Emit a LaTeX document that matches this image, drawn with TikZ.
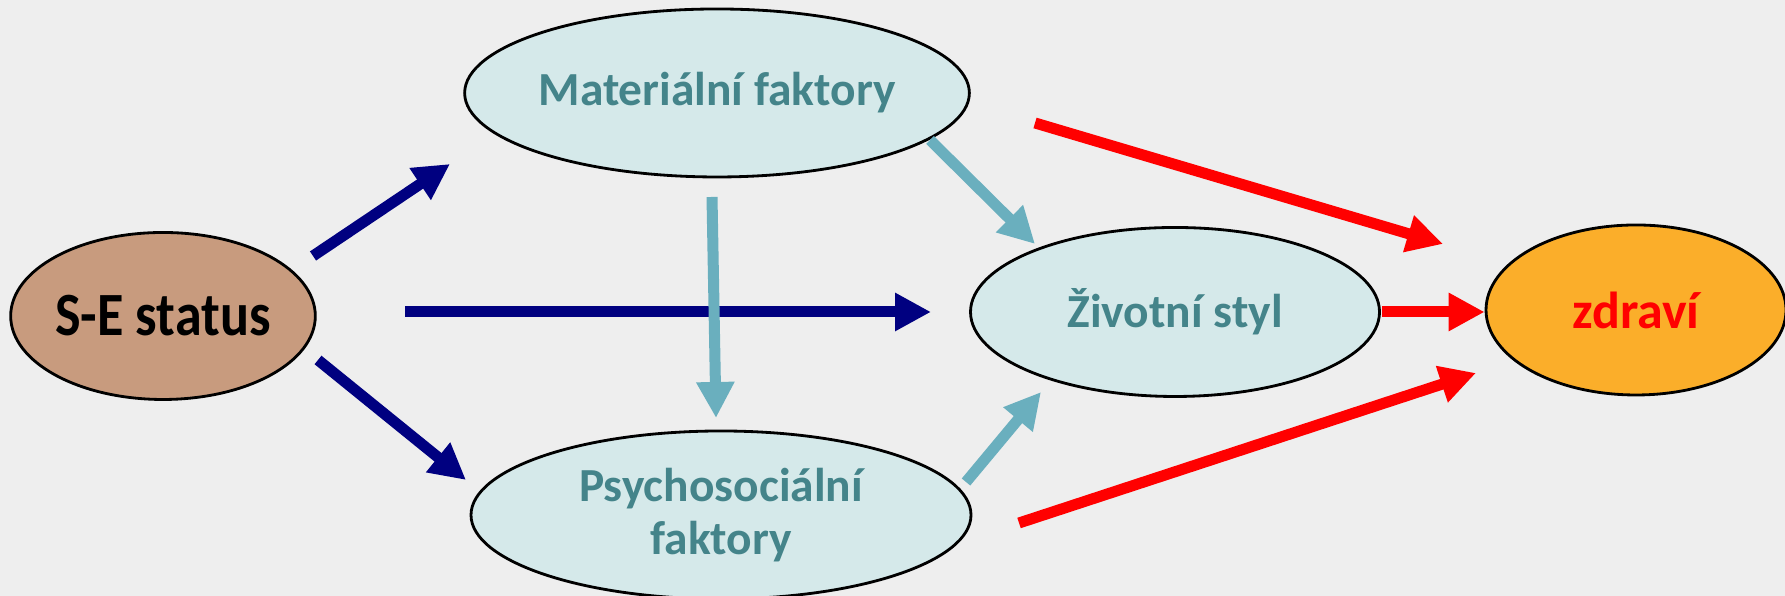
\documentclass[tikz,border=0pt]{standalone}
\usepackage{fontspec}
\setmainfont{Carlito}
\newfontfamily\narrowfont[FakeStretch=0.88]{Carlito}
\usetikzlibrary{arrows.meta, shapes.geometric}

\definecolor{bgGray}{HTML}{EEEEEE}
\definecolor{boxFill}{HTML}{D5E9EA}
\definecolor{boxText}{HTML}{44848A}
\definecolor{seFill}{HTML}{C89B7E}
\definecolor{healthFill}{HTML}{FBAE2A}
\definecolor{navyArrow}{HTML}{000080}
\definecolor{cyanArrow}{HTML}{6AAFBE}
\definecolor{redArrow}{HTML}{FF0000}

\tikzset{
    factor/.style={ellipse, draw=black, line width=0.8pt, fill=boxFill, text=boxText,
        font=\bfseries\fontsize{13.5}{15}\selectfont, align=center, inner sep=0pt},
    fatarrow/.style={line width=0.11cm, -{Triangle[length=0.36cm, width=0.36cm]}},
}

\begin{document}
\begin{tikzpicture}
            \useasboundingbox (0,0) rectangle (17.85,5.96);
            \fill[bgGray] (0,0) rectangle (17.85,5.96);

            \node[factor, fill=seFill, text=black, font=\narrowfont\bfseries\fontsize{17.5}{21}\selectfont,
                minimum width=3.04cm, minimum height=1.67cm] (se) at (1.63,2.80) {S-E status};
            \node[factor, minimum width=5.02cm, minimum height=1.68cm] (mat) at (7.17,5.03) {Materiální faktory};
            \node[factor, minimum width=5.00cm, minimum height=1.68cm] (psy) at (7.21,0.81) {Psychosociální\\faktory};
            \node[factor, minimum width=4.09cm, minimum height=1.69cm] (ziv) at (11.75,2.84) {Životní styl};
            \node[factor, fill=healthFill, text=redArrow, font=\bfseries\fontsize{14.8}{17}\selectfont,
                minimum width=3.00cm, minimum height=1.70cm] (zdr) at (16.36,2.86) {zdraví};

            % arrow ends
            \coordinate (seMatA) at (3.13,3.40);
            \coordinate (seMatB) at (4.50,4.32);
            \coordinate (seZivA) at (4.05,2.84);
            \coordinate (seZivB) at (9.31,2.84);
            \coordinate (sePsyA) at (3.18,2.36);
            \coordinate (sePsyB) at (4.66,1.16);
            \coordinate (matPsyA) at (7.12,3.99);
            \coordinate (matPsyB) at (7.16,1.78);
            \coordinate (matZivA) at (9.30,4.56);
            \coordinate (matZivB) at (10.35,3.52);
            \coordinate (psyZivA) at (9.66,1.14);
            \coordinate (psyZivB) at (10.41,2.04);
            \coordinate (matZdrA) at (10.35,4.73);
            \coordinate (matZdrB) at (14.43,3.52);
            \coordinate (psyZdrA) at (10.19,0.73);
            \coordinate (psyZdrB) at (14.76,2.23);

            \draw[fatarrow, navyArrow] (seMatA) -- (seMatB);% S-E -> materialni
            \draw[fatarrow, navyArrow] (seZivA) -- (seZivB);% S-E -> zivotni styl
            \draw[fatarrow, navyArrow] (sePsyA) -- (sePsyB);% S-E -> psychosocialni

            \draw[fatarrow, cyanArrow] (matPsyA) -- (matPsyB);
            \draw[fatarrow, cyanArrow] (matZivA) -- (matZivB);
            \draw[fatarrow, cyanArrow] (psyZivA) -- (psyZivB);

            \draw[fatarrow, redArrow] (matZdrA) -- (matZdrB);
            \draw[fatarrow, redArrow, shorten <=0.4pt] (ziv.east) -- (ziv.east -| zdr.west);
            \draw[fatarrow, redArrow] (psyZdrA) -- (psyZdrB);
        \end{tikzpicture}
\end{document}
